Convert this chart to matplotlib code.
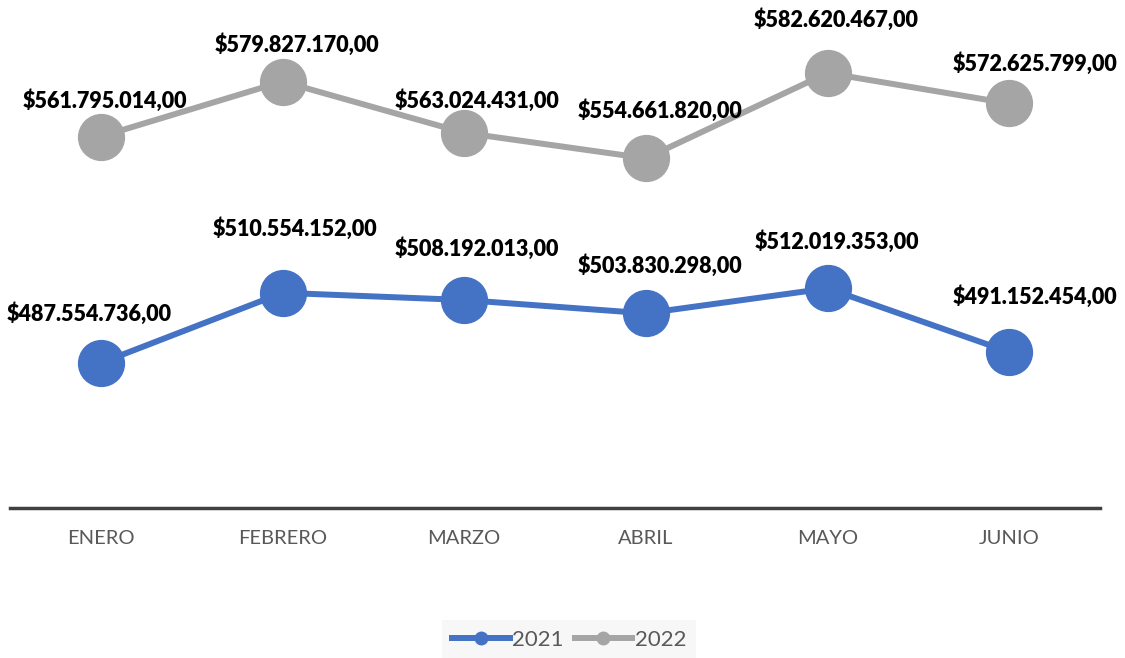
import matplotlib
matplotlib.use("Agg")
import matplotlib.pyplot as plt
from matplotlib.lines import Line2D

months = ["ENERO", "FEBRERO", "MARZO", "ABRIL", "MAYO", "JUNIO"]
v2021 = [487554736.00, 510554152.00, 508192013.00, 503830298.00, 512019353.00, 491152454.00]
v2022 = [561795014.00, 579827170.00, 563024431.00, 554661820.00, 582620467.00, 572625799.00]

# label offsets in pixels (dx, dy) relative to the point
off2021 = [(-12, 49), (12, 64), (13, 51), (14, 48), (9, 47), (26, 55)]
off2022 = [(4, 36), (14, 37), (13, 32), (14, 48), (9, 53), (26, 40)]

def fmt(v):
    s = f"{v:,.2f}"
    s = s.replace(",", "X").replace(".", ",").replace("X", ".")
    return "$" + s

plt.rcParams['font.family'] = ['Lato', 'DejaVu Sans']
fig = plt.figure(figsize=(11.25, 6.58), dpi=100)
ax = fig.add_axes([10/1125, 1 - 508/658, 1090/1125, (508 - 20)/658])
x = list(range(len(months)))
c21 = "#4472C4"
c22 = "#A5A5A5"
ax.plot(x, v2021, color=c21, lw=4.3, marker='o', ms=33, label="2021", solid_capstyle='round', zorder=3)
ax.plot(x, v2022, color=c22, lw=4.3, marker='o', ms=33, label="2022", solid_capstyle='round', zorder=3)

for xs, vals, offs in [(x, v2021, off2021), (x, v2022, off2022)]:
    for xi, v, (dx, dy) in zip(xs, vals, offs):
        ax.annotate(fmt(v), (xi, v), xytext=(dx * 0.72, dy * 0.72), textcoords='offset points',
                    ha='center', va='center', fontsize=15.5, fontweight='heavy', color='black', zorder=5)

ax.set_xlim(-0.5, 5.5)
ax.set_ylim(440e6, 600e6)
ax.set_xticks(x)
ax.set_xticklabels(months, fontsize=14.5, color="#595959")
ax.tick_params(axis='x', length=0, pad=16)
ax.set_yticks([])
for s in ['top', 'right', 'left']:
    ax.spines[s].set_visible(False)
ax.spines['bottom'].set_color("#404040")
ax.spines['bottom'].set_linewidth(2.5)
ax.patch.set_alpha(0)

handles = [Line2D([], [], color=c21, lw=4.3, marker='o', ms=9),
           Line2D([], [], color=c22, lw=4.3, marker='o', ms=9)]
leg = fig.legend(handles, ["2021", "2022"], loc='center', bbox_to_anchor=(569/1125, 1 - 640/658),
                 ncol=2, frameon=True, fontsize=16, handlelength=2.6, handletextpad=0.1,
                 columnspacing=0.5, borderpad=0.45, labelcolor="#595959")
leg.get_frame().set_facecolor("#F5F5F5")
leg.get_frame().set_edgecolor("none")
leg.get_frame().set_boxstyle('square', pad=0)

fig.savefig("out.png", dpi=100)
